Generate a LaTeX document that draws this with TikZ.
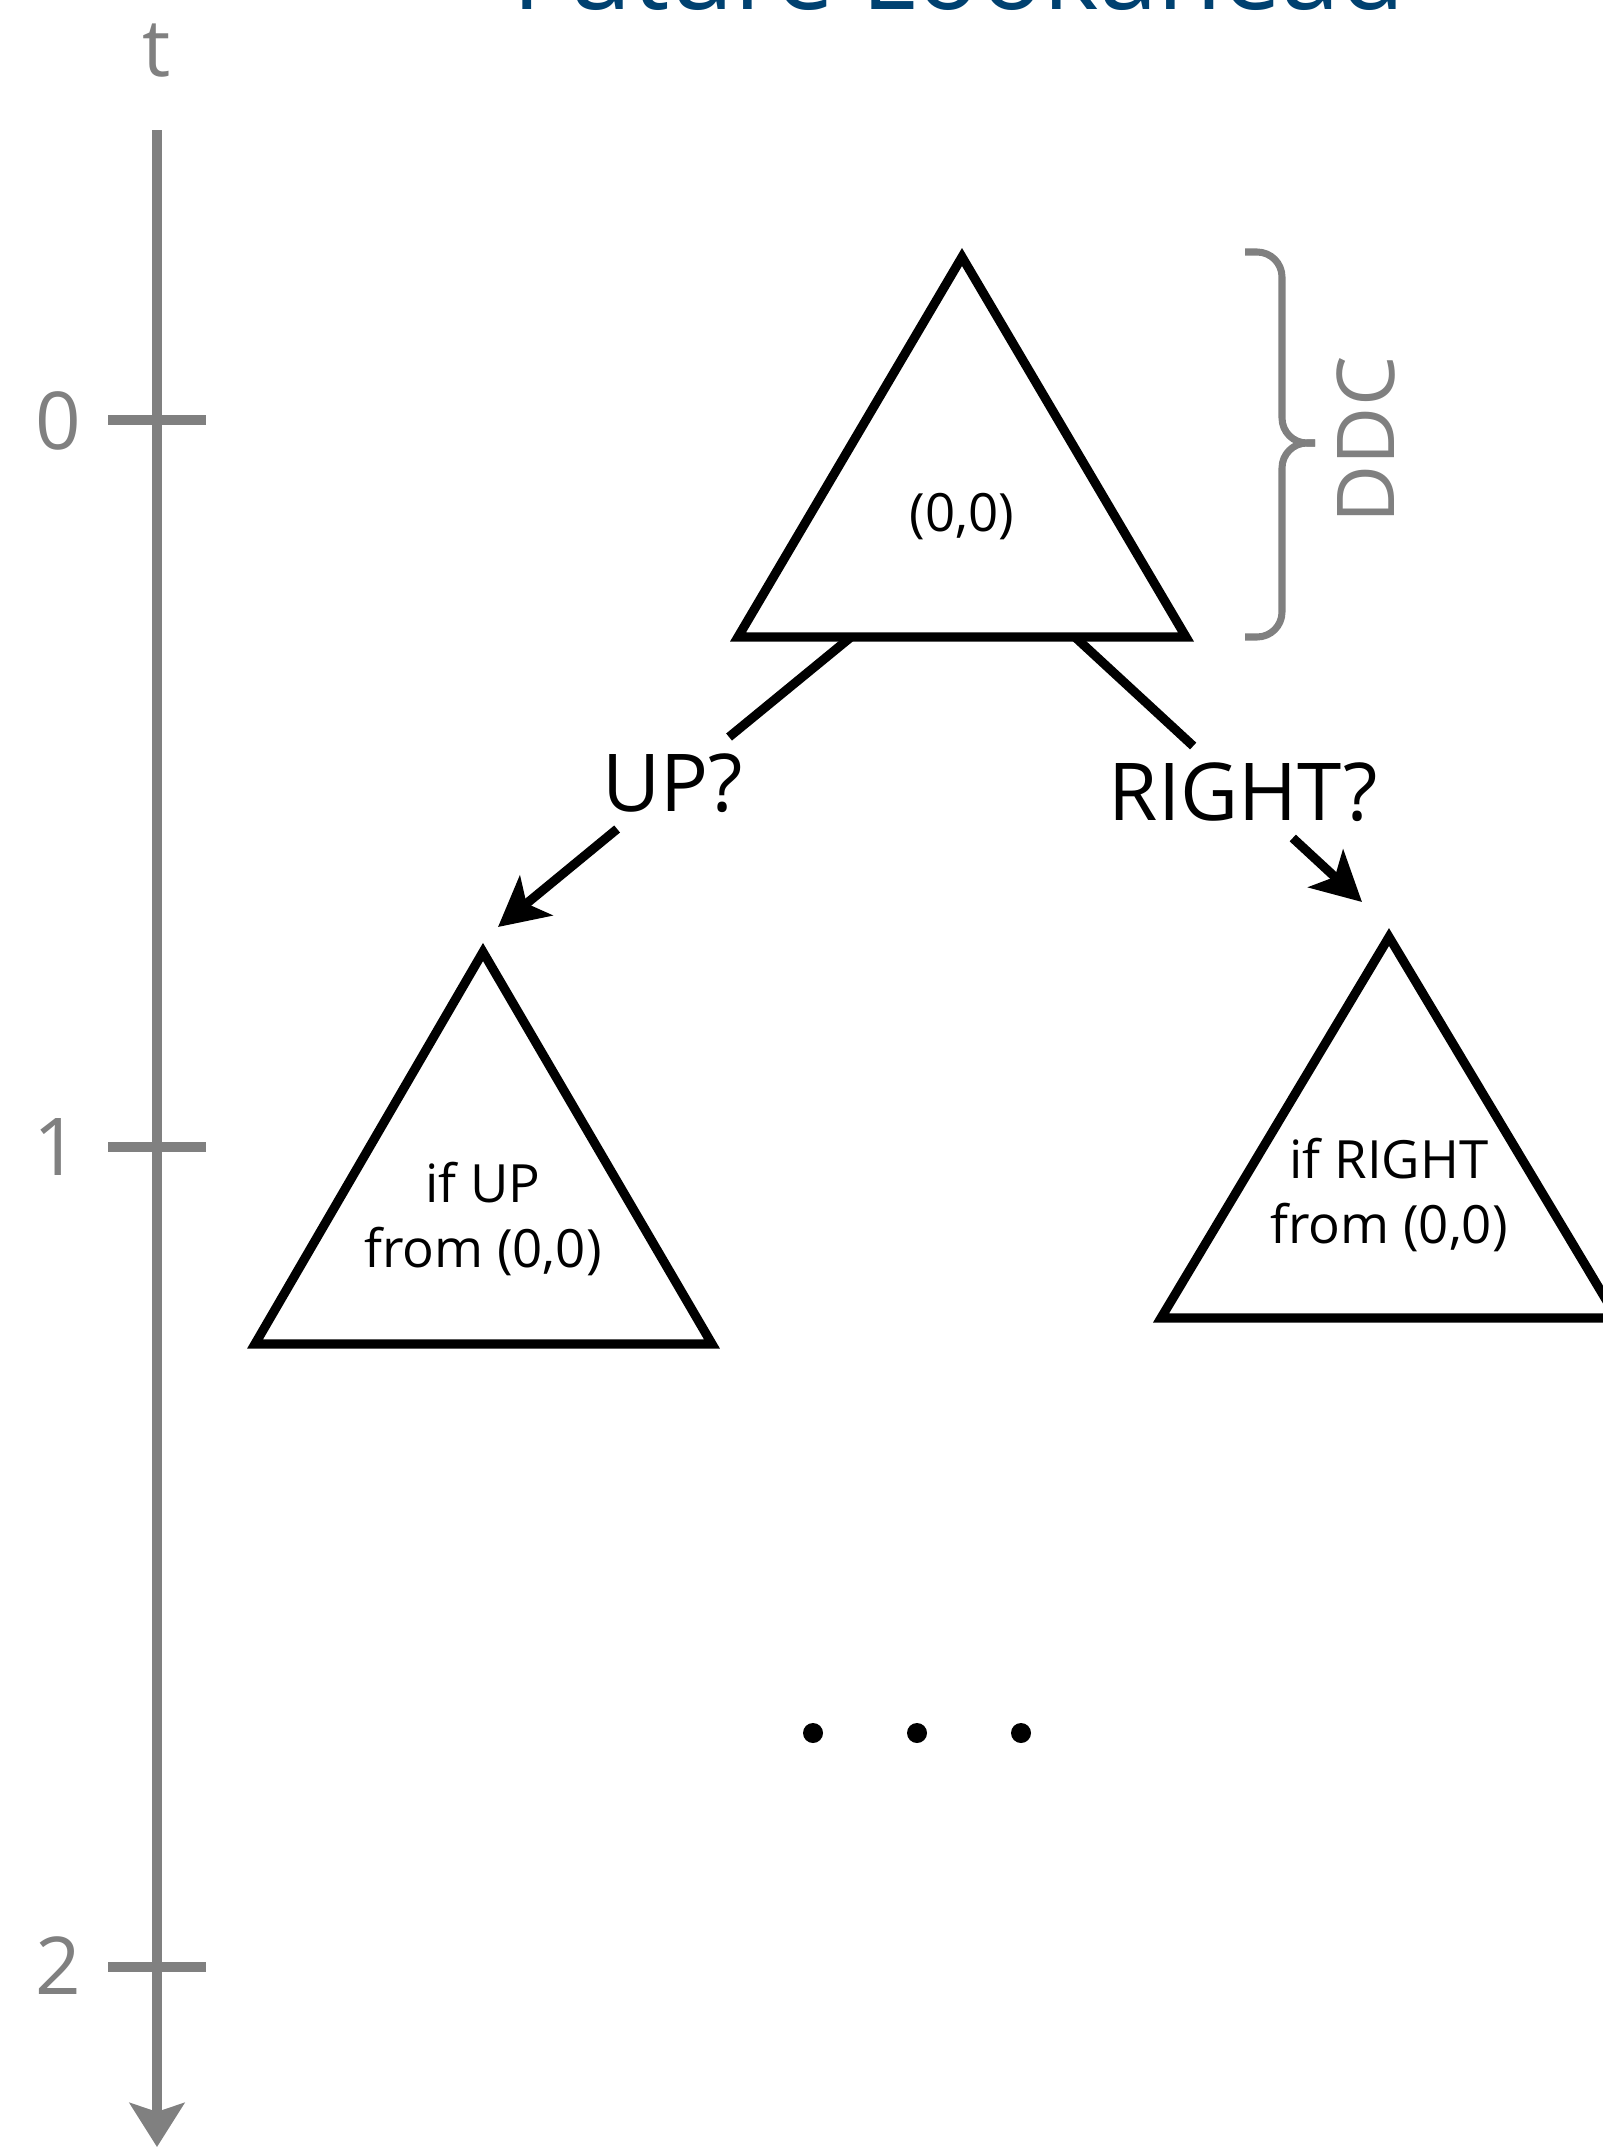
\documentclass[tikz,border=0pt]{standalone}
\usepackage{fontspec}
\setmainfont{Open Sans}
\usetikzlibrary{arrows.meta}
\definecolor{axisgray}{RGB}{128,128,128}
\definecolor{titleblue}{RGB}{0,65,112}
\begin{document}
\begin{tikzpicture}[x=0.01cm,y=-0.01cm,
  tri/.style={draw=black, line width=2.6pt, line join=miter},
  conn/.style={draw=black, line width=2.6pt},
  connarrow/.style={conn, -{Stealth[length=14pt,width=14.5pt,inset=3.5pt]}},
  axisline/.style={draw=axisgray, line width=2.8pt},
  axisarrow/.style={axisline, -{Stealth[length=12.5pt,width=15.5pt,inset=2.5pt]}},
  bigtxt/.style={font=\fontsize{22.7}{27}\selectfont, inner sep=0pt},
  graytxt/.style={bigtxt, text=axisgray},
  lbl/.style={bigtxt, inner sep=4.5pt},
  smalltxt/.style={font=\fontsize{15}{18.5}\selectfont, align=center, inner sep=0pt},
  bracestyle/.style={draw=axisgray, line width=2pt, rounded corners=0.25cm},
  dotmark/.style={circle, fill=black, inner sep=0pt, minimum size=0.2cm},
  titletxt/.style={font=\fontsize{30}{36}\selectfont, text=titleblue, inner sep=0pt}
]
\useasboundingbox (0,0) rectangle (1603,2148);

% title (cut off at the top)
\node[titletxt, anchor=base] (title) at (959,9) {Future Lookahead};

% time axis
\coordinate (axtop) at (157,130);
\coordinate (axbot) at (157,2147);
\draw[axisarrow] (axtop) -- (axbot);
\node[graytxt, anchor=base] (tlab) at (157,76) {t};
\coordinate (tk0a) at (108,420); \coordinate (tk0b) at (206,420);
\coordinate (tk1a) at (108,1147); \coordinate (tk1b) at (206,1147);
\coordinate (tk2a) at (108,1967); \coordinate (tk2b) at (206,1967);
\draw[axisline] (tk0a) -- (tk0b);
\draw[axisline] (tk1a) -- (tk1b);
\draw[axisline] (tk2a) -- (tk2b);
\node[graytxt] (n0) at (58,421) {0};
\node[graytxt] (n1) at (56,1147) {1};
\node[graytxt] (n2) at (58,1966) {2};

% top triangle
\coordinate (tA) at (962,257);
\coordinate (tL) at (738,637);
\coordinate (tR) at (1186,637);
\draw[tri] (tA) -- (tL) -- (tR) -- cycle;
\node[smalltxt] (toptxt) at (962,517) {(0,0)};

% left triangle
\coordinate (lA) at (483,952);
\coordinate (lL) at (255,1344);
\coordinate (lR) at (712,1344);
\draw[tri] (lA) -- (lL) -- (lR) -- cycle;
\node[smalltxt] (lefttxt) at (483,1219) {if UP\\from (0,0)};

% right triangle
\coordinate (rA) at (1389,937);
\coordinate (rL) at (1161,1318);
\coordinate (rR) at (1617,1318);
\draw[tri] (rA) -- (rL) -- (rR) -- cycle;
\node[smalltxt] (righttxt) at (1389,1195) {if RIGHT\\from (0,0)};

% connectors
\coordinate (upstart) at (851,637);
\coordinate (upend) at (498,927);
\node[lbl] (uplbl) at (673,783) {UP?};
\draw[conn] (upstart) -- (uplbl);
\draw[connarrow] (uplbl) -- (upend);

\coordinate (rtstart) at (1075,637);
\coordinate (rtend) at (1362,902);
\node[lbl] (rtlbl) at (1243,792) {RIGHT?};
\draw[conn] (rtstart) -- (rtlbl);
\draw[connarrow] (rtlbl) -- (rtend);

% DDC brace
\draw[bracestyle] (1245,252) -- (1282,252) -- (1282,443) -- (1315,443);
\draw[bracestyle] (1315,443) -- (1282,443) -- (1282,637) -- (1245,637);
\node[graytxt, rotate=90] (ddc) at (1366,440) {DDC};

% ellipsis
\node[dotmark] (d1) at (813,1733) {};
\node[dotmark] (d2) at (917,1733) {};
\node[dotmark] (d3) at (1021,1733) {};
\end{tikzpicture}
\end{document}
